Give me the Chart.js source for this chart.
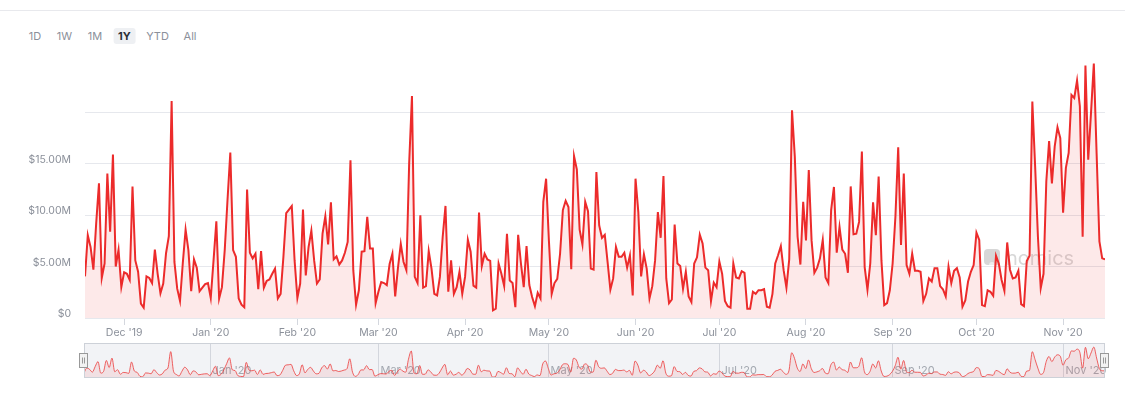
<!DOCTYPE html>
<html>
<head>
<meta charset="utf-8">
<script src="https://cdn.jsdelivr.net/npm/chart.js@4.4.0/dist/chart.umd.min.js"></script>
<style>
  body { margin: 0; width: 1125px; height: 397px; background: #fff; position: relative; overflow: hidden;
         font-family: Inter, "Noto Sans", sans-serif; }
  .topline { position: absolute; left: 0; top: 10px; width: 1125px; height: 1px; background: #e8e9ed; }
  .btn { position: absolute; top: 28px; height: 16px; line-height: 16px; font-size: 11px; color: #8b909a;
         text-align: center; transform: translateX(-50%); padding: 0 5px; }
  .btn.on { background: #eef0f3; color: #2b2f36; font-weight: 700; border-radius: 3px; }
  #main { position: absolute; left: 0; top: 50px; }
  #nav { position: absolute; left: 0; top: 340px; }
</style>
</head>
<body>
<div class="topline"></div>
<div id="buttons"></div>
<canvas id="main" width="1125" height="290"></canvas>
<canvas id="nav" width="1125" height="48"></canvas>
<script>
// daily volume, millions of USD, starting 17 Nov 2019
const startDate = new Date(2019, 10, 17);
const dailyVolumeM = [
  4.05, 8.05, 6.9, 4.7, 9.2, 13.1, 3.9, 5.3, 14.05, 8.4,
  15.9, 5.0, 6.65, 3.0, 4.45, 4.3, 3.7, 12.8, 5.6, 4.5,
  1.4, 1.0, 4.05, 3.9, 3.4, 6.65, 4.3, 2.4, 3.35, 6.3,
  7.95, 21.1, 5.45, 2.85, 1.65, 5.35, 8.6, 6.6, 2.6, 5.7,
  4.9, 2.6, 2.95, 3.3, 3.4, 1.95, 5.6, 9.4, 1.9, 3.0,
  6.6, 11.5, 16.1, 6.6, 5.95, 1.9, 1.3, 1.05, 12.5, 6.35,
  5.8, 6.25, 2.8, 6.5, 2.95, 3.6, 3.75, 4.3, 4.8, 1.9,
  2.35, 5.95, 10.2, 10.55, 10.9, 5.6, 1.95, 3.35, 10.55, 4.15,
  6.9, 8.5, 5.6, 3.35, 3.75, 8.2, 9.9, 7.15, 11.25, 5.7,
  6.0, 5.2, 5.6, 6.35, 7.4, 15.35, 4.65, 1.3, 2.7, 6.45,
  6.5, 9.85, 6.75, 6.75, 1.45, 2.55, 3.5, 3.4, 3.2, 5.25,
  6.25, 2.1, 4.9, 7.2, 5.45, 4.65, 15.05, 21.6, 4.0, 3.4,
  10.0, 2.95, 3.1, 6.5, 4.8, 2.35, 2.2, 4.0, 7.9, 10.9,
  2.55, 5.6, 2.35, 3.0, 4.5, 2.35, 4.0, 7.6, 6.45, 3.15,
  2.95, 10.25, 5.05, 6.25, 5.7, 5.55, 0.75, 0.9, 5.3, 4.3,
  3.1, 8.2, 3.65, 3.4, 1.05, 8.1, 5.3, 3.0, 7.0, 3.2,
  2.05, 1.15, 2.45, 1.9, 11.3, 13.55, 7.55, 2.35, 3.4, 3.8,
  6.25, 10.5, 11.4, 10.8, 4.75, 15.75, 14.45, 8.6, 7.15, 11.3,
  10.4, 4.8, 4.7, 14.2, 9.0, 7.8, 8.1, 5.45, 2.75, 3.85,
  6.9, 5.95, 5.95, 6.35, 4.9, 6.1, 2.2, 13.55, 10.3, 4.05,
  6.2, 4.8, 1.9, 3.1, 5.6, 10.3, 7.8, 13.8, 3.85, 1.45,
  1.8, 9.1, 5.3, 5.05, 2.85, 4.5, 2.1, 1.55, 5.3, 5.9,
  8.1, 7.25, 4.9, 4.65, 1.65, 3.45, 3.0, 5.5, 4.3, 1.65,
  1.15, 1.0, 5.3, 3.95, 3.85, 4.55, 4.4, 0.9, 0.9, 2.55,
  2.35, 2.7, 2.7, 2.8, 1.1, 1.0, 2.35, 5.3, 6.1, 7.0,
  4.65, 2.95, 5.7, 20.2, 15.7, 7.9, 5.2, 11.3, 7.55, 14.4,
  7.55, 4.4, 4.9, 5.8, 7.6, 3.95, 3.4, 10.5, 12.75, 6.35,
  8.85, 6.65, 6.25, 4.4, 12.8, 8.15, 8.2, 9.35, 16.2, 4.95,
  2.75, 5.3, 11.25, 8.05, 13.75, 5.6, 1.25, 1.45, 2.7, 5.3,
  9.85, 16.6, 7.1, 14.05, 5.15, 4.3, 6.25, 4.6, 4.6, 4.5,
  1.65, 2.35, 3.85, 3.55, 4.85, 4.85, 3.1, 2.8, 2.1, 5.0,
  3.4, 4.6, 4.85, 3.95, 1.1, 1.7, 3.55, 4.5, 5.15, 8.3,
  7.6, 1.25, 1.15, 2.7, 2.55, 2.15, 6.05, 5.3, 3.7, 2.65,
  7.35, 4.7, 3.85, 3.95, 4.6, 1.35, 1.15, 5.55, 6.05, 21.05,
  14.75, 7.9, 2.9, 4.3, 13.3, 17.2, 13.1, 16.7, 18.55, 17.5,
  10.25, 14.6, 16.05, 21.7, 21.4, 23.1, 20.6, 7.9, 24.55, 15.4,
  20.0, 24.75, 16.0, 7.45, 5.8, 5.7
];
const monthTickLabels = ["Dec '19", "Jan '20", "Feb '20", "Mar '20", "Apr '20", "May '20",
                         "Jun '20", "Jul '20", "Aug '20", "Sep '20", "Oct '20", "Nov '20"];
const navTickLabels = ["Jan '20", "Mar '20", "May '20", "Jul '20", "Sep '20", "Nov '20"];
const yTickValues = [0, 5, 10, 15, 20, 25];
const yTickLabels = ['$0', '$5.00M', '$10.00M', '$15.00M', '', ''];
const rangeButtons = ['1D', '1W', '1M', '1Y', 'YTD', 'All'];
const activeButton = '1Y';

// range buttons
const buttonCenters = [35, 64.5, 95, 124.5, 157.5, 190];
const btnBox = document.getElementById('buttons');
rangeButtons.forEach((b, i) => {
  const el = document.createElement('div');
  el.className = 'btn' + (b === activeButton ? ' on' : '');
  el.textContent = b;
  el.style.left = buttonCenters[i] + 'px';
  btnBox.appendChild(el);
});

// first-of-month positions in day index
const monthTicks = monthTickLabels.map((label, i) => {
  const d = new Date(2019, 11 + i, 1);
  return { value: Math.round((d - startDate) / 864e5), label };
});
const labelAt = {};
monthTicks.forEach(t => { labelAt[t.value] = t.label; });
const navTicks = monthTicks.filter(t => navTickLabels.includes(t.label));

const points = dailyVolumeM.map((v, i) => ({ x: i, y: v }));
const lastIdx = dailyVolumeM.length - 1;
const gray = '#8b909a';
const font = { family: 'Inter', size: 10.5 };

const watermark = {
  id: 'watermark',
  beforeDatasetsDraw(chart) {
    const c = chart.ctx, a = chart.chartArea;
    const x = a.right - 121, y = a.top + 188;
    c.save();
    c.fillStyle = 'rgba(140,140,140,0.35)';
    c.beginPath();
    c.roundRect(x, y, 16, 16, 4);
    c.fill();
    c.fillStyle = 'rgba(255,255,255,0.55)';
    c.beginPath();
    c.arc(x + 8, y + 16, 3, Math.PI, 0);
    c.fill();
    c.fillStyle = 'rgba(140,140,140,0.35)';
    c.font = '20px Inter';
    c.textBaseline = 'alphabetic';
    c.fillText('nomics', x + 22, y + 16);
    c.restore();
  }
};

new Chart(document.getElementById('main'), {
  type: 'line',
  data: {
    datasets: [{
      data: points,
      borderColor: '#ec2b2b',
      borderWidth: 2,
      backgroundColor: 'rgba(236,43,43,0.1)',
      fill: 'origin',
      pointRadius: 0,
      tension: 0
    }]
  },
  options: {
    responsive: false,
    animation: false,
    events: [],
    layout: { padding: { top: 11, right: 20, left: 0, bottom: 0 } },
    plugins: { legend: { display: false }, tooltip: { enabled: false } },
    scales: {
      x: {
        type: 'linear', min: 0, max: lastIdx,
        afterBuildTicks: s => { s.ticks = monthTicks.map(t => ({ value: t.value })); },
        afterFit: s => { s.height = 22; s.paddingLeft = 0; s.paddingRight = 0; },
        ticks: { autoSkip: false, maxRotation: 0, padding: 2, color: gray, font,
                 callback: v => labelAt[v] },
        grid: { drawOnChartArea: false, drawTicks: true, tickLength: 7, color: '#d4d7de' },
        border: { display: false }
      },
      y: {
        min: 0, max: 25,
        afterBuildTicks: s => { s.ticks = yTickValues.map(v => ({ value: v })); },
        afterFit: s => { s.width = 85; s.paddingTop = 0; s.paddingBottom = 0; },
        ticks: { padding: 14, labelOffset: -4, color: gray, font,
                 callback: (v, i) => yTickLabels[i] },
        grid: { drawTicks: false, color: ctx => ctx.tick && ctx.tick.value === 25 ? 'rgba(0,0,0,0)' : '#e6e8ed' },
        border: { display: false }
      }
    }
  },
  plugins: [watermark]
});

const navFrame = {
  id: 'navFrame',
  beforeDatasetsDraw(chart) {
    const c = chart.ctx, a = chart.chartArea, sx = chart.scales.x;
    c.save();
    c.fillStyle = '#f2f3f6';
    c.fillRect(a.left, a.top, a.right - a.left, a.bottom - a.top);
    c.strokeStyle = '#d3d6dd';
    c.lineWidth = 1;
    c.font = '11px Inter';
    c.fillStyle = '#a3a8b0';
    c.textBaseline = 'middle';
    navTicks.forEach(t => {
      const px = Math.round(sx.getPixelForValue(t.value)) + 0.5;
      c.beginPath(); c.moveTo(px, a.top); c.lineTo(px, a.bottom); c.stroke();
      c.fillText(t.label, px + 2, a.bottom - 7);
    });
    c.restore();
  },
  afterDraw(chart) {
    const c = chart.ctx, a = chart.chartArea;
    c.save();
    c.strokeStyle = '#cdd1d8';
    c.lineWidth = 1;
    c.strokeRect(a.left + 0.5, a.top + 0.5, a.right - a.left - 1, a.bottom - a.top - 1);
    [a.left, a.right].forEach(hx => {
      const x = Math.round(hx) - 4.5, y = a.top + 10.5;
      c.fillStyle = '#f2f2f2';
      c.strokeStyle = '#999';
      c.fillRect(x, y, 8, 14);
      c.strokeRect(x, y, 8, 14);
      c.beginPath();
      c.moveTo(x + 3, y + 4); c.lineTo(x + 3, y + 10);
      c.moveTo(x + 5, y + 4); c.lineTo(x + 5, y + 10);
      c.stroke();
    });
    c.restore();
  }
};

new Chart(document.getElementById('nav'), {
  type: 'line',
  data: {
    datasets: [{
      data: points,
      borderColor: 'rgba(236,60,60,0.8)',
      borderWidth: 1,
      backgroundColor: 'rgba(236,60,60,0.1)',
      fill: 'origin',
      pointRadius: 0,
      cubicInterpolationMode: 'monotone'
    }]
  },
  options: {
    responsive: false,
    animation: false,
    events: [],
    layout: { padding: { left: 84, right: 20, top: 3, bottom: 10 } },
    plugins: { legend: { display: false }, tooltip: { enabled: false } },
    scales: {
      x: { type: 'linear', display: false, min: 0, max: lastIdx },
      y: { display: false, min: 0, max: 28 }
    }
  },
  plugins: [navFrame]
});
</script>
</body>
</html>
